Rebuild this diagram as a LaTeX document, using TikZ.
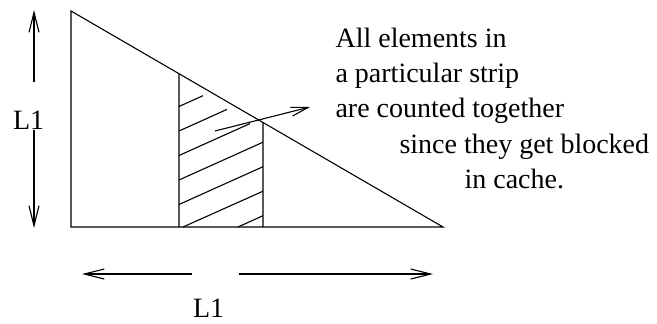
\documentclass[tikz,border=0pt]{standalone}
\usepackage{fontspec}
\setmainfont{Liberation Serif}
\usetikzlibrary{arrows.meta, calc}
\tikzset{
  % thin xfig-like lines, open barbed tips
  every picture/.append style = {line width=1.1pt},
  dimarrow/.style = {-{Straight Barb[length=20pt, width=10pt]}},
  ptrarrow/.style = {-{Straight Barb[length=17pt, width=9pt]}},
  txt/.style      = {anchor=base west, inner sep=0, font=\fontsize{28}{33}\selectfont},
}

\begin{document}
\begin{tikzpicture}[x=1pt,y=-1pt]
  \useasboundingbox (0,0) rectangle (657,324);
  % --- the triangle --------------------------------------------------------
  \coordinate (apex)   at (71,11);
  \coordinate (corner) at (71,227);
  \coordinate (tip)    at (443,227);
  \draw (apex) -- (corner) -- (tip) -- cycle;
  % --- the strip -----------------------------------------------------------
  \coordinate (stripLtop) at ($(apex)!0.2903!(tip)$);
  \coordinate (stripRtop) at ($(apex)!0.5161!(tip)$);
  \coordinate (stripLbot) at (179,227);
  \coordinate (stripRbot) at (263,227);
  \draw (stripLtop) -- (stripLbot);
  \draw (stripRtop) -- (stripRbot);
  % hatching inside the strip
  \foreach \xa/\ya/\xb/\yb in {179/106.5/203/95.7, 179/131/227/109.4,
      179/155.5/250/123.6, 179/180/263/142.2, 179/204.5/263/166.7,
      183/227/263/191.2, 238/227/263/215.7}
    \draw (\xa,\ya) -- (\xb,\yb);
  % --- pointer to the note -------------------------------------------------
  \coordinate (ptr)    at (215,131);
  \coordinate (ptrEnd) at (310,107);
  \draw[ptrarrow] (ptr) -- (ptrEnd);
  % --- the note ------------------------------------------------------------
  \node[txt] (note1) at (335,47)  {All elements in};
  \node[txt] (note2) at (335,82)  {a particular strip};
  \node[txt] (note3) at (335,117) {are counted together};
  \node[txt] (note4) at (399,153) {since they get blocked};
  \node[txt] (note5) at (464,188) {in cache.};
  % --- dimensions ----------------------------------------------------------
  \node[txt] (lenV) at (12.5,129) {L1};
  \node[txt] (lenH) at (192.5,317) {L1};
  \coordinate (vUpA)  at (34,82);
  \coordinate (vUpB)  at (34,10);
  \coordinate (vDnA)  at (34,130);
  \coordinate (vDnB)  at (34,228);
  \coordinate (hLfA)  at (192,274);
  \coordinate (hLfB)  at (82,274);
  \coordinate (hRtA)  at (239,274);
  \coordinate (hRtB)  at (433,274);
  \draw[dimarrow] (vUpA) -- (vUpB);
  \draw[dimarrow] (vDnA) -- (vDnB);
  \draw[dimarrow] (hLfA) -- (hLfB);
  \draw[dimarrow] (hRtA) -- (hRtB);
\end{tikzpicture}
\end{document}
